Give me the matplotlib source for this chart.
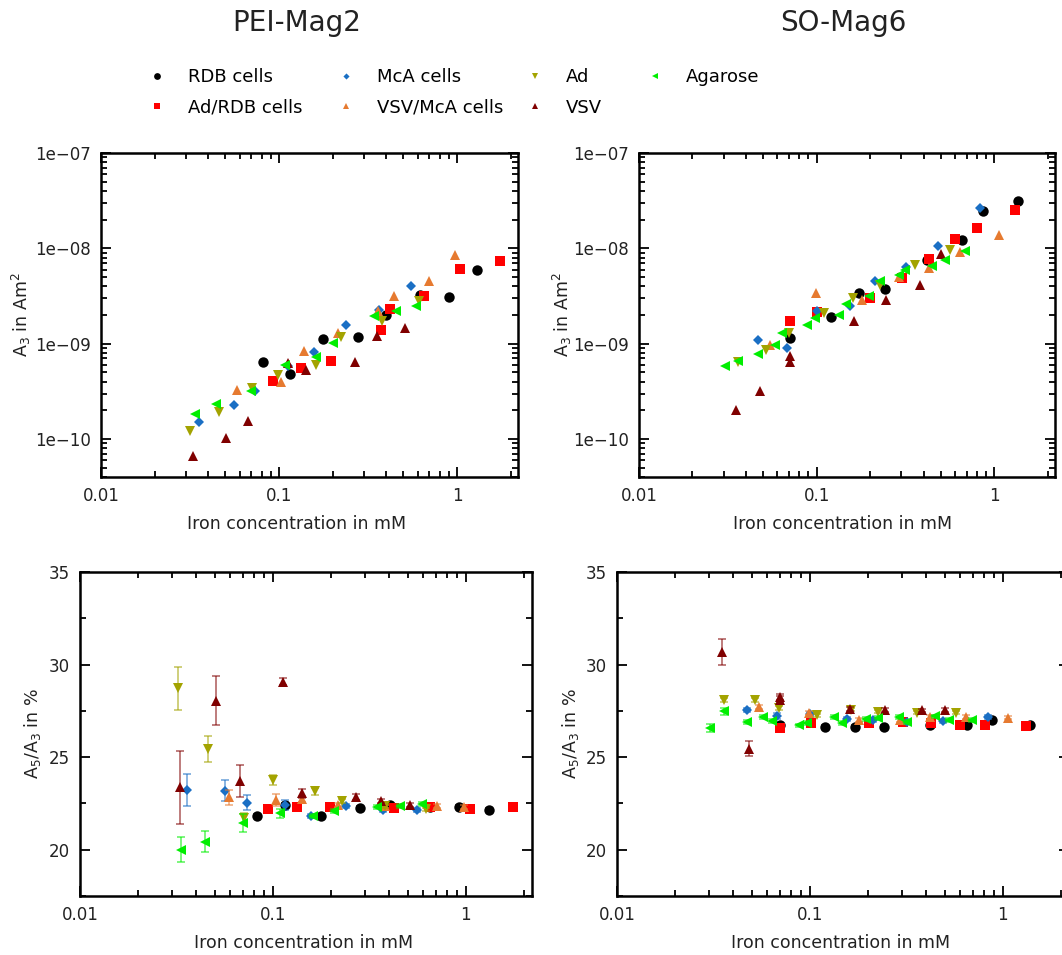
import numpy as np
import matplotlib
matplotlib.use("Agg")
from matplotlib import pyplot as plt
from matplotlib.ticker import FixedLocator, FixedFormatter, LogLocator, NullFormatter, MultipleLocator

# ---- labels / categories ----
names = ['RDB cells', 'Ad/RDB cells', 'McA cells', 'VSV/McA cells', 'Ad', 'VSV', 'Agarose']
panel_titles = ['PEI-Mag2', 'SO-Mag6']
x_ticks = [0.01, 0.1, 1]
x_tick_labels = ['0.01', '0.1', '1']
a3_ticks = [1e-10, 1e-9, 1e-8, 1e-7]
a3_tick_labels = ['1e\u221210', '1e\u221209', '1e\u221208', '1e\u221207']
ratio_ticks = [20, 25, 30, 35]

# ---- PEI-Mag2, A3 (Am^2) ----
pei_rdb_x = [0.0816, 0.115, 0.176, 0.279, 0.397, 0.62, 0.906, 1.29]
pei_rdb_a3 = [6.4e-10, 4.8e-10, 1.11e-9, 1.19e-9, 2.02e-9, 3.28e-9, 3.07e-9, 5.97e-9]
pei_adrdb_x = [0.0925, 0.1325, 0.195, 0.374, 0.419, 0.653, 1.045, 1.74]
pei_adrdb_a3 = [4.08e-10, 5.6e-10, 6.6e-10, 1.38e-9, 2.32e-9, 3.15e-9, 6.1e-9, 7.43e-9]
pei_mca_x = [0.0355, 0.0561, 0.0733, 0.1128, 0.158, 0.239, 0.365, 0.552]
pei_mca_a3 = [1.52e-10, 2.28e-10, 3.18e-10, 5.86e-10, 8.2e-10, 1.56e-9, 2.24e-9, 4.04e-9]
pei_vsvmca_x = [0.0583, 0.103, 0.139, 0.214, 0.361, 0.445, 0.70, 0.97]
pei_vsvmca_a3 = [3.3e-10, 4.0e-10, 8.4e-10, 1.28e-9, 2.21e-9, 3.17e-9, 4.53e-9, 8.6e-9]
pei_ad_x = [0.0316, 0.0458, 0.0705, 0.099, 0.162, 0.224, 0.38, 0.614]
pei_ad_a3 = [1.21e-10, 1.94e-10, 3.47e-10, 4.68e-10, 6.05e-10, 1.19e-9, 1.75e-9, 2.82e-9]
pei_vsv_x = [0.033, 0.0502, 0.067, 0.112, 0.142, 0.267, 0.357, 0.51]
pei_vsv_a3 = [6.7e-11, 1.02e-10, 1.56e-10, 6.3e-10, 5.28e-10, 6.5e-10, 1.21e-9, 1.47e-9]
pei_aga_x = [0.0336, 0.0443, 0.0698, 0.108, 0.161, 0.202, 0.34, 0.453, 0.589]
pei_aga_a3 = [1.85e-10, 2.34e-10, 3.18e-10, 6.0e-10, 7.3e-10, 1.02e-9, 1.94e-9, 2.22e-9, 2.51e-9]

# ---- PEI-Mag2, A5/A3 (%) ----
pei_rdb_rx = [0.0826, 0.116, 0.178, 0.282, 0.405, 0.652, 0.917, 1.315]
pei_rdb_r = [21.84, 22.42, 21.82, 22.25, 22.42, 22.32, 22.31, 22.15]
pei_rdb_e = [0.1, 0.1, 0.1, 0.1, 0.1, 0.1, 0.1, 0.1]
pei_adrdb_rx = [0.0942, 0.134, 0.198, 0.425, 0.655, 1.05, 1.745]
pei_adrdb_r = [22.2, 22.29, 22.32, 22.27, 22.29, 22.18, 22.31]
pei_adrdb_e = [0.2, 0.15, 0.1, 0.1, 0.1, 0.1, 0.1]
pei_mca_rx = [0.0359, 0.0567, 0.0733, 0.116, 0.158, 0.239, 0.371, 0.56]
pei_mca_r = [23.24, 23.19, 22.54, 22.42, 21.82, 22.38, 22.16, 22.13]
pei_mca_e = [0.86, 0.56, 0.41, 0.27, 0.1, 0.1, 0.1, 0.1]
pei_vsvmca_rx = [0.0589, 0.104, 0.142, 0.217, 0.383, 0.705, 0.977]
pei_vsvmca_r = [22.83, 22.7, 22.74, 22.43, 22.34, 22.38, 22.29]
pei_vsvmca_e = [0.41, 0.32, 0.15, 0.1, 0.1, 0.1, 0.1]
pei_ad_rx = [0.0321, 0.0461, 0.0711, 0.1, 0.166, 0.227, 0.383, 0.621]
pei_ad_r = [28.72, 25.44, 21.7, 23.78, 23.16, 22.65, 22.34, 22.18]
pei_ad_e = [1.15, 0.69, 0.27, 0.27, 0.2, 0.1, 0.1, 0.1]
pei_vsv_rx = [0.033, 0.0509, 0.0675, 0.1128, 0.142, 0.27, 0.362, 0.515]
pei_vsv_r = [23.37, 28.05, 23.73, 29.08, 23.05, 22.86, 22.65, 22.43]
pei_vsv_e = [1.98, 1.33, 0.86, 0.2, 0.25, 0.16, 0.1, 0.1]
pei_aga_rx = [0.0334, 0.0445, 0.07, 0.109, 0.162, 0.206, 0.345, 0.456, 0.59]
pei_aga_r = [20.0, 20.43, 21.43, 21.97, 21.82, 22.08, 22.29, 22.38, 22.46]
pei_aga_e = [0.68, 0.56, 0.5, 0.24, 0.1, 0.1, 0.1, 0.1, 0.1]

# ---- SO-Mag6, A3 (Am^2) ----
so_rdb_x = [0.0708, 0.121, 0.173, 0.243, 0.421, 0.655, 0.863, 1.36]
so_rdb_a3 = [1.14e-9, 1.92e-9, 3.42e-9, 3.73e-9, 7.5e-9, 1.22e-8, 2.49e-8, 3.1e-8]
so_adrdb_x = [0.0711, 0.101, 0.201, 0.301, 0.428, 0.598, 0.80, 1.31]
so_adrdb_a3 = [1.75e-9, 2.16e-9, 3.0e-9, 4.87e-9, 7.66e-9, 1.25e-8, 1.64e-8, 2.51e-8]
so_mca_x = [0.047, 0.0678, 0.101, 0.155, 0.212, 0.319, 0.484, 0.828]
so_mca_a3 = [1.1e-9, 9.1e-10, 2.22e-9, 2.47e-9, 4.5e-9, 6.4e-9, 1.06e-8, 2.62e-8]
so_vsvmca_x = [0.0547, 0.099, 0.18, 0.292, 0.428, 0.641, 1.07]
so_vsvmca_a3 = [9.6e-10, 3.42e-9, 2.84e-9, 5.03e-9, 6.2e-9, 9.07e-9, 1.39e-8]
so_ad_x = [0.0361, 0.0521, 0.0698, 0.11, 0.161, 0.227, 0.357, 0.566]
so_ad_a3 = [6.4e-10, 8.6e-10, 1.31e-9, 2.12e-9, 3.03e-9, 4.15e-9, 6.73e-9, 9.6e-9]
so_vsv_x = [0.0352, 0.0483, 0.0705, 0.0705, 0.163, 0.245, 0.38, 0.504]
so_vsv_a3 = [2.03e-10, 3.2e-10, 7.5e-10, 6.5e-10, 1.73e-9, 2.86e-9, 4.15e-9, 8.7e-9]
so_aga_x = [0.0305, 0.0361, 0.047, 0.058, 0.0641, 0.0887, 0.0974, 0.134,
            0.146, 0.198, 0.229, 0.29, 0.315, 0.447, 0.526, 0.684]
so_aga_a3 = [5.77e-10, 6.6e-10, 7.85e-10, 9.6e-10, 1.3e-9, 1.57e-9, 1.87e-9, 1.99e-9,
             2.64e-9, 3.2e-9, 4.57e-9, 5.3e-9, 5.9e-9, 6.5e-9, 7.5e-9, 9.3e-9]

# ---- SO-Mag6, A5/A3 (%) ----
so_rdb_rx = [0.07, 0.12, 0.171, 0.243, 0.419, 0.653, 0.873, 1.38]
so_rdb_r = [26.75, 26.62, 26.62, 26.62, 26.71, 26.72, 26.98, 26.72]
so_rdb_e = [0.1, 0.1, 0.1, 0.1, 0.1, 0.1, 0.1, 0.1]
so_adrdb_rx = [0.07, 0.101, 0.202, 0.304, 0.424, 0.598, 0.807, 1.31]
so_adrdb_r = [26.56, 26.82, 26.82, 26.91, 26.85, 26.72, 26.72, 26.67]
so_adrdb_e = [0.12, 0.1, 0.1, 0.1, 0.1, 0.1, 0.1, 0.1]
so_mca_rx = [0.047, 0.0675, 0.0996, 0.155, 0.212, 0.319, 0.488, 0.834]
so_mca_r = [27.56, 27.23, 27.34, 27.07, 26.98, 26.91, 26.96, 27.18]
so_mca_e = [0.1, 0.15, 0.1, 0.1, 0.1, 0.1, 0.1, 0.1]
so_vsvmca_rx = [0.0542, 0.0988, 0.18, 0.292, 0.42, 0.643, 1.065]
so_vsvmca_r = [27.7, 27.37, 26.99, 27.01, 27.16, 27.18, 27.14]
so_vsvmca_e = [0.1, 0.1, 0.1, 0.1, 0.1, 0.1, 0.1]
so_ad_rx = [0.0358, 0.0521, 0.0689, 0.1087, 0.163, 0.226, 0.36, 0.569]
so_ad_r = [28.1, 28.1, 27.64, 27.25, 27.57, 27.46, 27.41, 27.41]
so_ad_e = [0.12, 0.1, 0.1, 0.1, 0.1, 0.1, 0.1, 0.1]
so_vsv_rx = [0.0351, 0.0481, 0.07, 0.07, 0.162, 0.245, 0.382, 0.5]
so_vsv_r = [30.69, 25.45, 28.11, 28.25, 27.59, 27.56, 27.52, 27.56]
so_vsv_e = [0.71, 0.4, 0.2, 0.15, 0.1, 0.1, 0.1, 0.1]
so_aga_rx = [0.0304, 0.0358, 0.047, 0.0573, 0.0636, 0.088, 0.096, 0.133,
             0.147, 0.195, 0.226, 0.289, 0.319, 0.445, 0.527, 0.689]
so_aga_r = [26.56, 27.48, 26.91, 27.18, 26.96, 26.71, 26.83, 27.18,
            26.85, 27.07, 27.1, 27.18, 26.91, 27.2, 27.01, 27.01]
so_aga_e = [0.22, 0.2, 0.12, 0.1, 0.1, 0.1, 0.1, 0.1,
            0.1, 0.1, 0.1, 0.1, 0.1, 0.1, 0.1, 0.1]

# styles
markers = ['o', 's', 'D', '^', 'v', '^', '<']
colors = ['#000000', '#ff0000', '#1a6fc4', '#e67a30', '#a3a300', '#800000', '#00ee00']
msizes = [7.5, 7, 4.8, 7, 7, 6.5, 7.5]
txt = '#222222'

pei_a3 = [(pei_rdb_x, pei_rdb_a3), (pei_adrdb_x, pei_adrdb_a3), (pei_mca_x, pei_mca_a3),
          (pei_vsvmca_x, pei_vsvmca_a3), (pei_ad_x, pei_ad_a3), (pei_vsv_x, pei_vsv_a3),
          (pei_aga_x, pei_aga_a3)]
so_a3 = [(so_rdb_x, so_rdb_a3), (so_adrdb_x, so_adrdb_a3), (so_mca_x, so_mca_a3),
         (so_vsvmca_x, so_vsvmca_a3), (so_ad_x, so_ad_a3), (so_vsv_x, so_vsv_a3),
         (so_aga_x, so_aga_a3)]
pei_ratio = [(pei_rdb_rx, pei_rdb_r, pei_rdb_e), (pei_adrdb_rx, pei_adrdb_r, pei_adrdb_e),
             (pei_mca_rx, pei_mca_r, pei_mca_e), (pei_vsvmca_rx, pei_vsvmca_r, pei_vsvmca_e),
             (pei_ad_rx, pei_ad_r, pei_ad_e), (pei_vsv_rx, pei_vsv_r, pei_vsv_e),
             (pei_aga_rx, pei_aga_r, pei_aga_e)]
so_ratio = [(so_rdb_rx, so_rdb_r, so_rdb_e), (so_adrdb_rx, so_adrdb_r, so_adrdb_e),
            (so_mca_rx, so_mca_r, so_mca_e), (so_vsvmca_rx, so_vsvmca_r, so_vsvmca_e),
            (so_ad_rx, so_ad_r, so_ad_e), (so_vsv_rx, so_vsv_r, so_vsv_e),
            (so_aga_rx, so_aga_r, so_aga_e)]

W, H = 1062, 955
fig = plt.figure(figsize=(W / 100, H / 100), dpi=100)


def box(l, t, r, b):
    # pixel box -> figure fraction
    return [l / W, 1 - b / H, (r - l) / W, (b - t) / H]


def style(ax, xlab_x):
    ax.set_xscale('log')
    ax.set_xlim(0.01, 2.2)
    ax.xaxis.set_major_locator(FixedLocator(x_ticks))
    ax.xaxis.set_major_formatter(FixedFormatter(x_tick_labels))
    ax.xaxis.set_minor_locator(LogLocator(base=10, subs=np.arange(2, 10) * 1.0, numticks=20))
    ax.xaxis.set_minor_formatter(NullFormatter())
    ax.tick_params(which='both', direction='in', top=True, right=True,
                   width=1.3, colors='black', labelcolor=txt, labelsize=12)
    ax.tick_params(which='major', length=7, pad=7)
    ax.tick_params(which='minor', length=4)
    for s in ax.spines.values():
        s.set_linewidth(1.8)
    ax.set_xlabel('Iron concentration in mM', fontsize=12.5, color=txt)
    ax.xaxis.set_label_coords(xlab_x, -0.117)


def top_panel(ax, data, ylab_x, xlab_x):
    style(ax, xlab_x)
    ax.set_yscale('log')
    ax.set_ylim(4e-11, 1e-7)
    ax.yaxis.set_major_locator(FixedLocator(a3_ticks))
    ax.yaxis.set_major_formatter(FixedFormatter(a3_tick_labels))
    ax.yaxis.set_minor_locator(LogLocator(base=10, subs=np.arange(2, 10) * 1.0, numticks=20))
    ax.yaxis.set_minor_formatter(NullFormatter())
    for i, (x, y) in enumerate(data):
        ax.plot(x, y, linestyle='none', marker=markers[i], color=colors[i],
                markersize=msizes[i], markeredgewidth=0, label=names[i])
    ax.set_ylabel('A$_3$ in Am$^2$', fontsize=12.5, color=txt)
    ax.yaxis.set_label_coords(ylab_x, 0.5)


def bottom_panel(ax, data, ylab_x, xlab_x):
    style(ax, xlab_x)
    ax.set_ylim(17.5, 35)
    ax.yaxis.set_major_locator(FixedLocator(ratio_ticks))
    ax.yaxis.set_minor_locator(MultipleLocator(2.5))
    for i, (x, y, e) in enumerate(data):
        ax.errorbar(x, y, yerr=e, fmt='none', ecolor=colors[i], elinewidth=1.2,
                    capsize=3, capthick=1.2, alpha=0.6)
        ax.plot(x, y, linestyle='none', marker=markers[i], color=colors[i],
                markersize=msizes[i], markeredgewidth=0)
    ax.set_ylabel('A$_5$/A$_3$ in %', fontsize=12.5, color=txt)
    ax.yaxis.set_label_coords(ylab_x, 0.5)


ax1 = fig.add_axes(box(101, 153, 518, 477))
top_panel(ax1, pei_a3, -0.163, 0.47)
ax2 = fig.add_axes(box(639, 153, 1055, 477))
top_panel(ax2, so_a3, -0.156, 0.49)
ax3 = fig.add_axes(box(80, 572, 532, 896))
bottom_panel(ax3, pei_ratio, -0.082, 0.495)
ax4 = fig.add_axes(box(617, 572, 1069, 896))
bottom_panel(ax4, so_ratio, -0.08, 0.495)

fig.text(297 / W, 1 - 23 / H, panel_titles[0], fontsize=20, ha='center', va='center', color=txt)
fig.text(843 / W, 1 - 23 / H, panel_titles[1], fontsize=20, ha='center', va='center', color=txt)

# legend: one small legend per column, laid out like the original
handles, labels = ax1.get_legend_handles_labels()
columns = [[0, 1], [2, 3], [4, 5], [6]]
col_x = [157, 346, 535, 655]   # marker centre of each column, px
for idx, cx in zip(columns, col_x):
    fig.legend([handles[i] for i in idx], [labels[i] for i in idx],
               loc='upper left', bbox_to_anchor=((cx - 10.8) / W, 1 - 68 / H),
               frameon=False, fontsize=13, markerscale=0.65,
               handlelength=1.2, handletextpad=1.1, labelspacing=0.7,
               borderpad=0, borderaxespad=0)

plt.savefig('out.png', dpi=100)
